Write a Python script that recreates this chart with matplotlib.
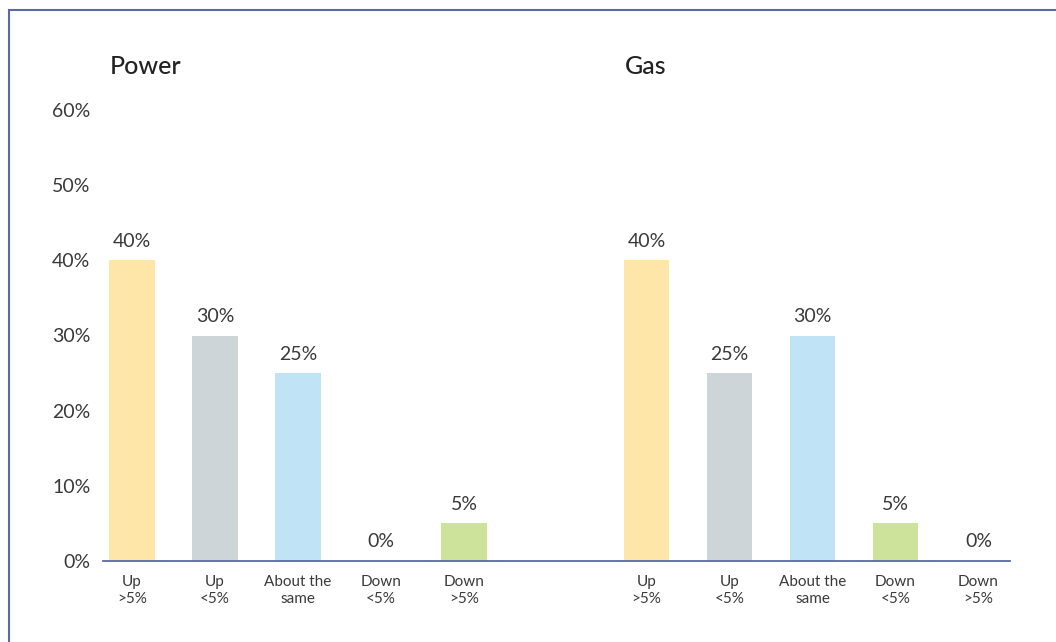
import numpy as np
import matplotlib.pyplot as plt
from matplotlib.patches import Rectangle

plt.rcParams['font.family'] = ['Lato', 'DejaVu Sans']

categories = ['Up\n>5%', 'Up\n<5%', 'About the\nsame', 'Down\n<5%', 'Down\n>5%']
power = [40, 30, 25, 0, 5]
gas = [40, 25, 30, 5, 0]
panels = ['Power', 'Gas']
colors = ['#fde6a8', '#cdd5d8', '#c0e3f5', '#cde39b', '#cde39b']

text_color = '#3a3a3a'
line_color = '#5a6aa5'

fig = plt.figure(figsize=(10.56, 6.42), dpi=100)
ax = fig.add_axes([103 / 1056, 1 - 561 / 642, (1010 - 103) / 1056, (561 - 110) / 642])

x_power = np.arange(5)
x_gas = np.arange(5) + 6.2

for xs, vals in [(x_power, power), (x_gas, gas)]:
    ax.bar(xs, vals, width=0.55, color=colors, zorder=2)
    for x, v in zip(xs, vals):
        ax.text(x, v + 1.4, f'{v}%', ha='center', va='bottom',
                fontsize=14, color=text_color)

ax.set_ylim(0, 60)
ax.set_xlim(-0.35, 10.58)
ax.set_yticks(range(0, 61, 10))
ax.set_yticklabels([f'{t}%' for t in range(0, 61, 10)], fontsize=14,
                   color=text_color)
ax.set_xticks(np.concatenate([x_power, x_gas]))
ax.set_xticklabels(categories + categories, fontsize=11,
                   color=text_color, linespacing=1.3)
ax.tick_params(axis='both', length=0)
ax.tick_params(axis='x', pad=10)
ax.tick_params(axis='y', pad=9)

for s in ['left', 'right', 'top']:
    ax.spines[s].set_visible(False)
ax.spines['bottom'].set_color(line_color)
ax.spines['bottom'].set_linewidth(1.3)

fig.text(110 / 1056, 1 - 67 / 642, panels[0], fontsize=18, fontweight='medium',
         color='#222222', ha='left', va='center')
fig.text(625 / 1056, 1 - 67 / 642, panels[1], fontsize=18, fontweight='medium',
         color='#222222', ha='left', va='center')

fig.patches.append(Rectangle((9 / 1056, -0.1), 1.2, 1 - 10 / 642 + 0.1,
                             transform=fig.transFigure, fill=False,
                             edgecolor=line_color, linewidth=1.5))

fig.savefig('out.png', dpi=100)
